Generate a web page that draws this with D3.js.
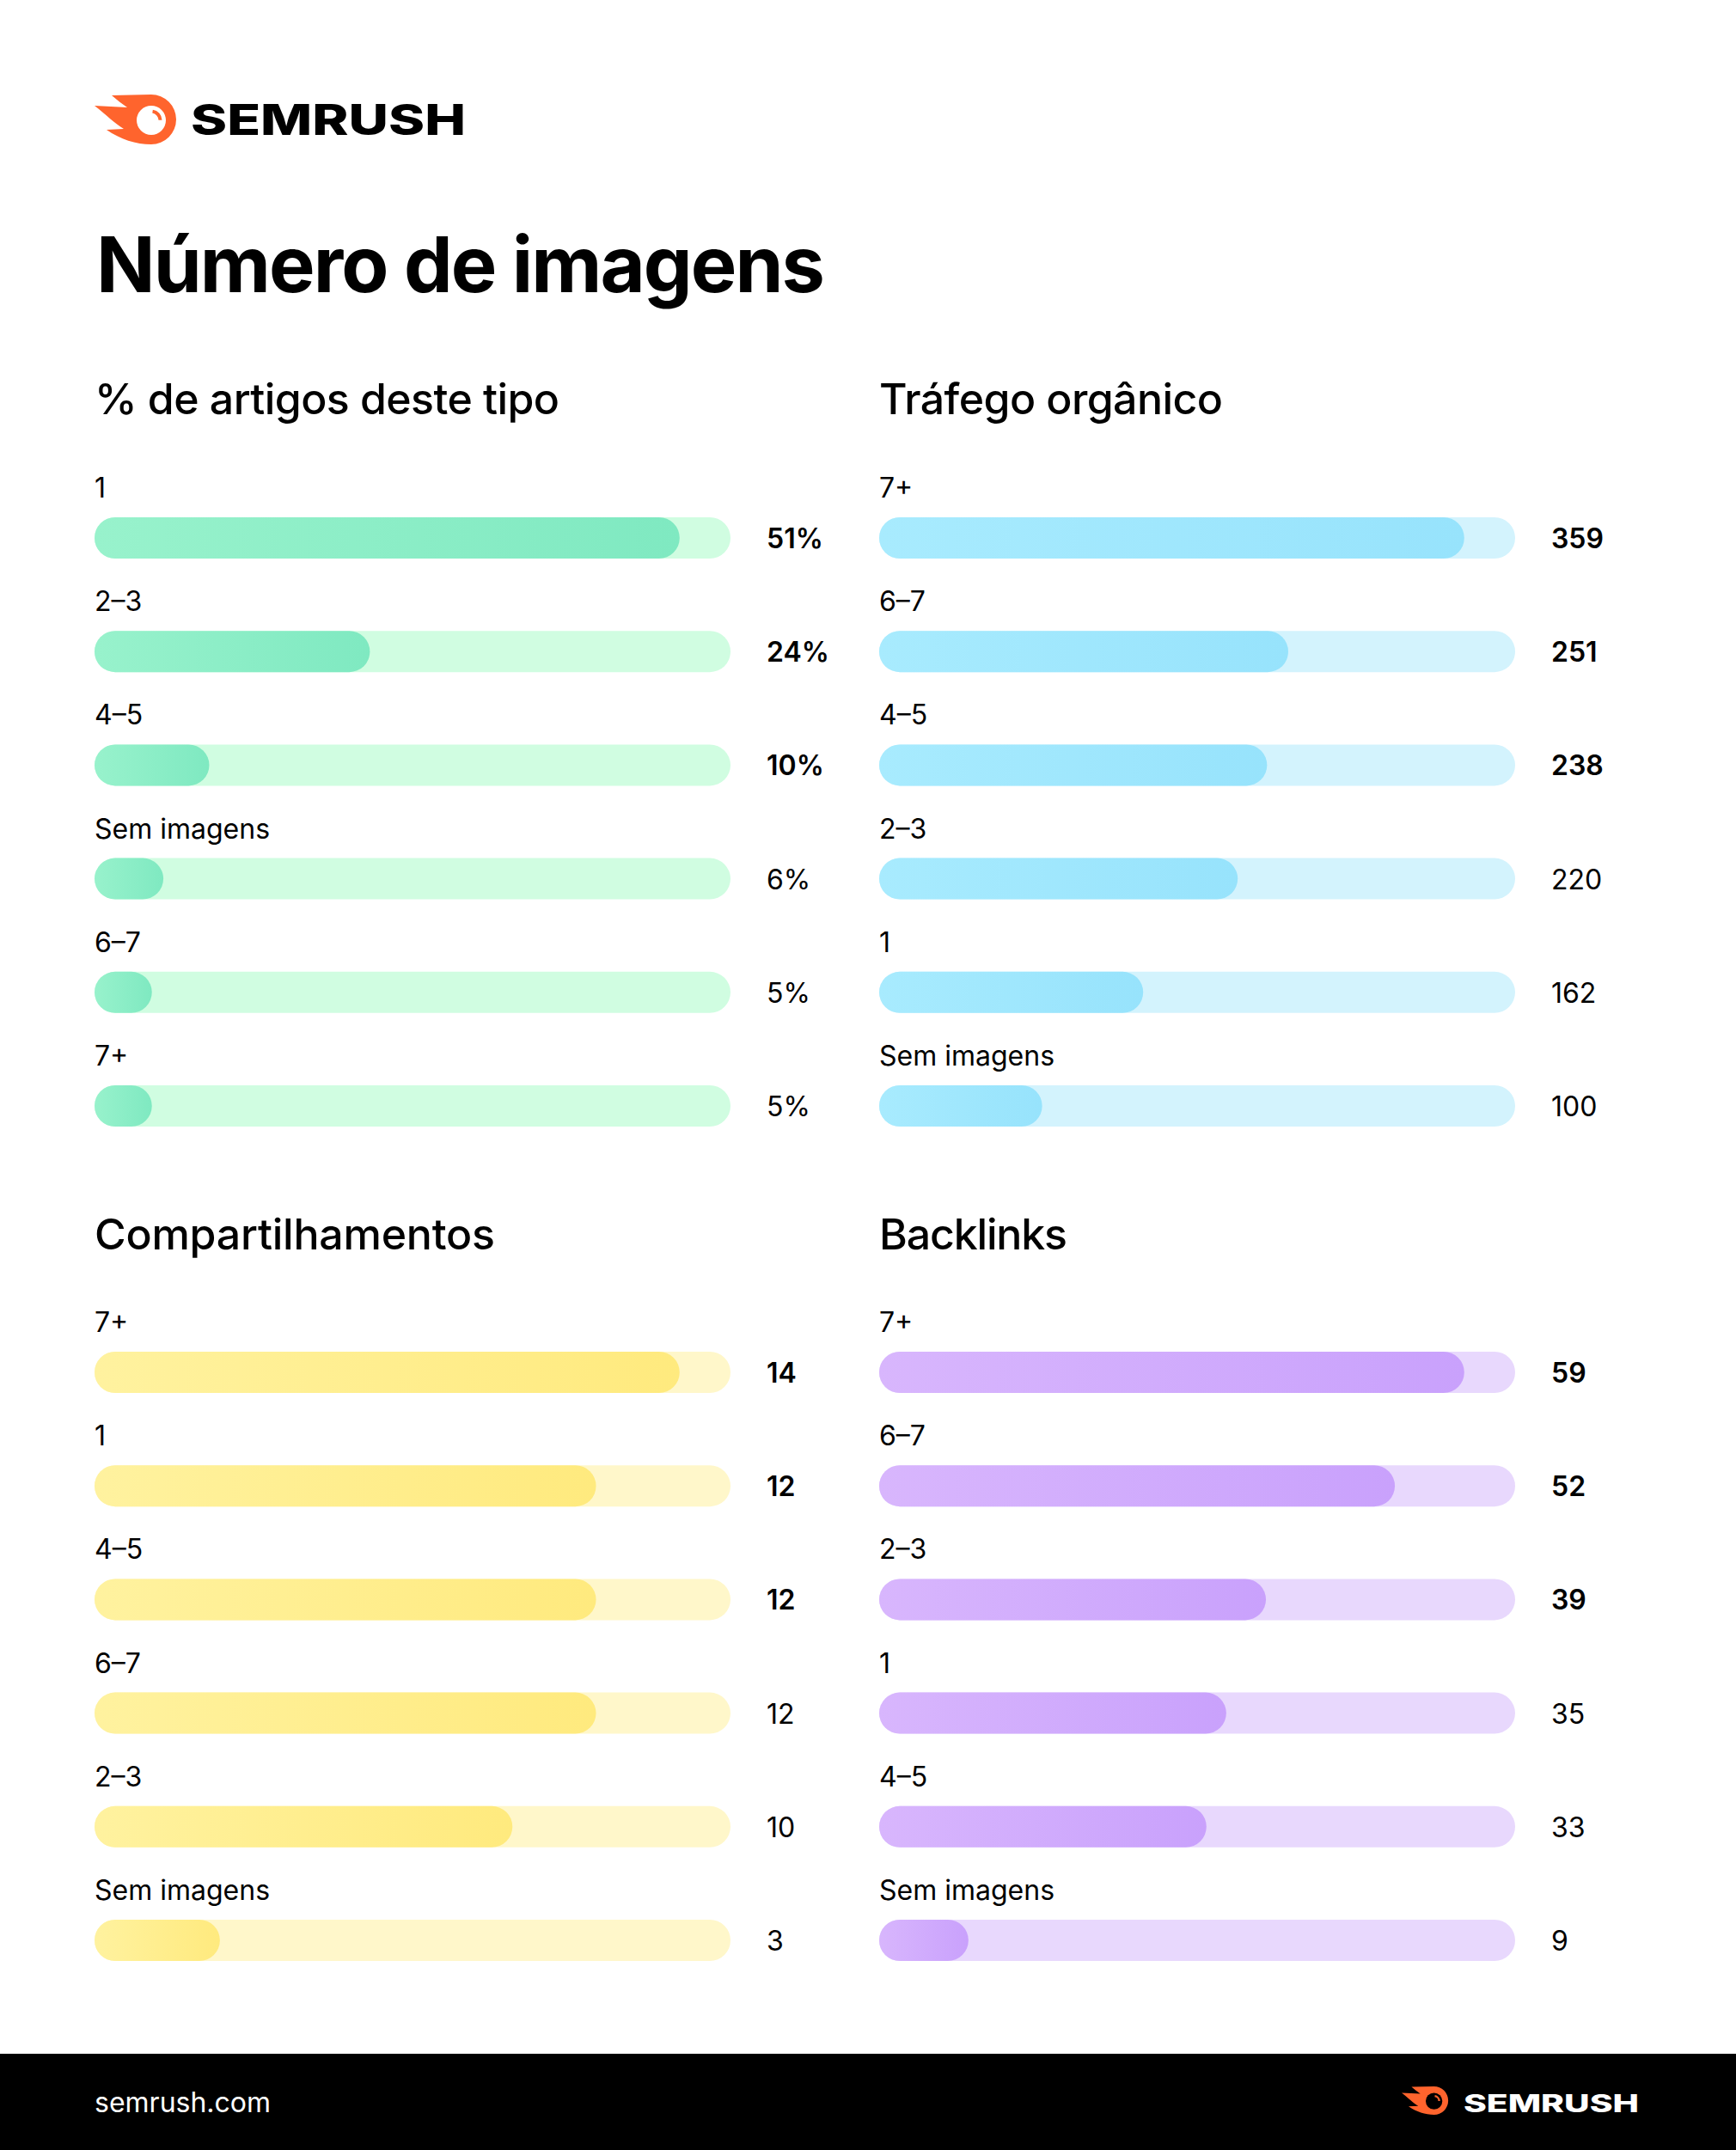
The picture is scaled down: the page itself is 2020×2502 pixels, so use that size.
<!DOCTYPE html>
<html>
<head>
<meta charset="utf-8">
<script src="https://cdn.jsdelivr.net/npm/d3@7"></script>
<style>
  html, body { margin: 0; padding: 0; background: #fff; }
  svg { display: block; }
  text { font-family: Inter, "Noto Sans", sans-serif; }
</style>
</head>
<body>
<script>
// ---------- DATA ----------
const pctCategories = ["1", "2–3", "4–5", "Sem imagens", "6–7", "7+"];
const pctValues = [51, 24, 10, 6, 5, 5];
const pctLabels = ["51%", "24%", "10%", "6%", "5%", "5%"];

const trafficCategories = ["7+", "6–7", "4–5", "2–3", "1", "Sem imagens"];
const trafficValues = [359, 251, 238, 220, 162, 100];
const trafficLabels = ["359", "251", "238", "220", "162", "100"];

const sharesCategories = ["7+", "1", "4–5", "6–7", "2–3", "Sem imagens"];
const sharesValues = [14, 12, 12, 12, 10, 3];
const sharesLabels = ["14", "12", "12", "12", "10", "3"];

const backlinksCategories = ["7+", "6–7", "2–3", "1", "4–5", "Sem imagens"];
const backlinksValues = [59, 52, 39, 35, 33, 9];
const backlinksLabels = ["59", "52", "39", "35", "33", "9"];

const titleText = "Número de imagens";
const panelTitles = ["% de artigos deste tipo", "Tráfego orgânico", "Compartilhamentos", "Backlinks"];
const footerText = "semrush.com";
const brandText = "SEMRUSH";

// ---------- LAYOUT ----------
const W = 2020, H = 2502;
const svg = d3.select("body").append("svg").attr("width", W).attr("height", H);
const defs = svg.append("defs");

function fitWidth(sel, target) {
  const node = sel.node();
  const w = node.getComputedTextLength();
  const n = sel.text().length;
  if (n > 1) sel.attr("letter-spacing", ((target - w) / (n - 1)).toFixed(2));
}

// Logo
function drawLogo(g, fg) {
  g.append("path")
    .attr("d", "M20,1 L66,0 A29,29 0 1 1 66,58 C48,58 30,52 14,41 L34,40 C24,34 14,24 0,13 L38,15 C32,11 26,6 20,1 Z")
    .attr("fill", "#FF642D");
  g.append("circle").attr("cx", 66).attr("cy", 30).attr("r", 17).attr("fill", fg);
  const arc = d3.arc()({innerRadius: 8.5, outerRadius: 12.5, startAngle: 0.15, endAngle: 1.55});
  g.append("path").attr("d", arc).attr("transform", "translate(66,30)").attr("fill", "#FF642D");
}
const logoTop = svg.append("g").attr("transform", "translate(110,110)");
drawLogo(logoTop, "#ffffff");
svg.append("text").attr("x", 222).attr("y", 157).attr("font-size", 49).attr("font-weight", 800)
  .attr("fill", "#000").attr("textLength", 320).attr("lengthAdjust", "spacingAndGlyphs").text(brandText);

// Title
const title = svg.append("text").attr("x", 112).attr("y", 340).attr("font-size", 90)
  .attr("font-weight", 700).attr("fill", "#000").text(titleText);
fitWidth(title, 848);

// Panels
const panels = [
  {cats: pctCategories, vals: pctValues, labels: pctLabels, x0: 110, headY: 482, rowY: 626, head: panelTitles[0], headW: 541,
   c0: "#98f2cc", c1: "#7fe9c1", track: "#d0fde1"},
  {cats: trafficCategories, vals: trafficValues, labels: trafficLabels, x0: 1023, headY: 482, rowY: 626, head: panelTitles[1], headW: 400,
   c0: "#a8ebfe", c1: "#97e3fc", track: "#d3f3fd"},
  {cats: sharesCategories, vals: sharesValues, labels: sharesLabels, x0: 110, headY: 1454, rowY: 1597, head: panelTitles[2], headW: 466,
   c0: "#fff29f", c1: "#ffea7e", track: "#fff7ca"},
  {cats: backlinksCategories, vals: backlinksValues, labels: backlinksLabels, x0: 1023, headY: 1454, rowY: 1597, head: panelTitles[3], headW: 219,
   c0: "#d8b6fd", c1: "#c9a1fc", track: "#e8d8fd"}
];

const trackW = 740, barH = 48, rowStep = 132.2, valueDx = 782;

panels.forEach((p, i) => {
  const gradId = "grad" + i;
  const grad = defs.append("linearGradient").attr("id", gradId).attr("x1", "0%").attr("x2", "100%").attr("y1", "0%").attr("y2", "0%");
  grad.append("stop").attr("offset", "0%").attr("stop-color", p.c0);
  grad.append("stop").attr("offset", "100%").attr("stop-color", p.c1);

  const g = svg.append("g").attr("transform", `translate(${p.x0},0)`);
  const head = g.append("text").attr("x", 0).attr("y", p.headY).attr("font-size", 50).attr("font-weight", 500)
    .attr("fill", "#000").text(p.head);
  fitWidth(head, p.headW);

  const x = d3.scaleLinear().domain([0, d3.max(p.vals) / 0.92]).range([0, trackW]);
  const y = d3.scalePoint().domain(d3.range(p.cats.length)).range([p.rowY, p.rowY + rowStep * (p.cats.length - 1)]);

  const rows = g.selectAll("g.row").data(p.vals.map((v, j) => ({v, cat: p.cats[j], lab: p.labels[j], j})))
    .join("g").attr("class", "row").attr("transform", d => `translate(0,${y(d.j)})`);

  rows.append("text").attr("x", 0).attr("y", -47).attr("font-size", 32).attr("font-weight", 400)
    .attr("fill", "#000").text(d => d.cat);
  rows.append("rect").attr("x", 0).attr("y", -barH / 2).attr("width", x.range()[1]).attr("height", barH)
    .attr("rx", barH / 2).attr("ry", barH / 2).attr("fill", p.track);
  rows.append("rect").attr("x", 0).attr("y", -barH / 2).attr("width", d => Math.max(barH, x(d.v))).attr("height", barH)
    .attr("rx", barH / 2).attr("ry", barH / 2).attr("fill", `url(#${gradId})`);
  rows.append("text").attr("x", valueDx).attr("y", 12).attr("font-size", 32)
    .attr("font-weight", d => d.j < 3 ? 600 : 400).attr("fill", "#000").text(d => d.lab);
});

// Footer
svg.append("rect").attr("x", 0).attr("y", 2390).attr("width", W).attr("height", H - 2390).attr("fill", "#000");
svg.append("text").attr("x", 110).attr("y", 2458).attr("font-size", 32).attr("font-weight", 400)
  .attr("fill", "#fff").text(footerText);
const logoFoot = svg.append("g").attr("transform", "translate(1631,2428) scale(0.57)");
drawLogo(logoFoot, "#000000");
svg.append("text").attr("x", 1703).attr("y", 2458).attr("font-size", 28).attr("font-weight", 800)
  .attr("fill", "#fff").attr("textLength", 204).attr("lengthAdjust", "spacingAndGlyphs").text(brandText);
</script>
</body>
</html>
